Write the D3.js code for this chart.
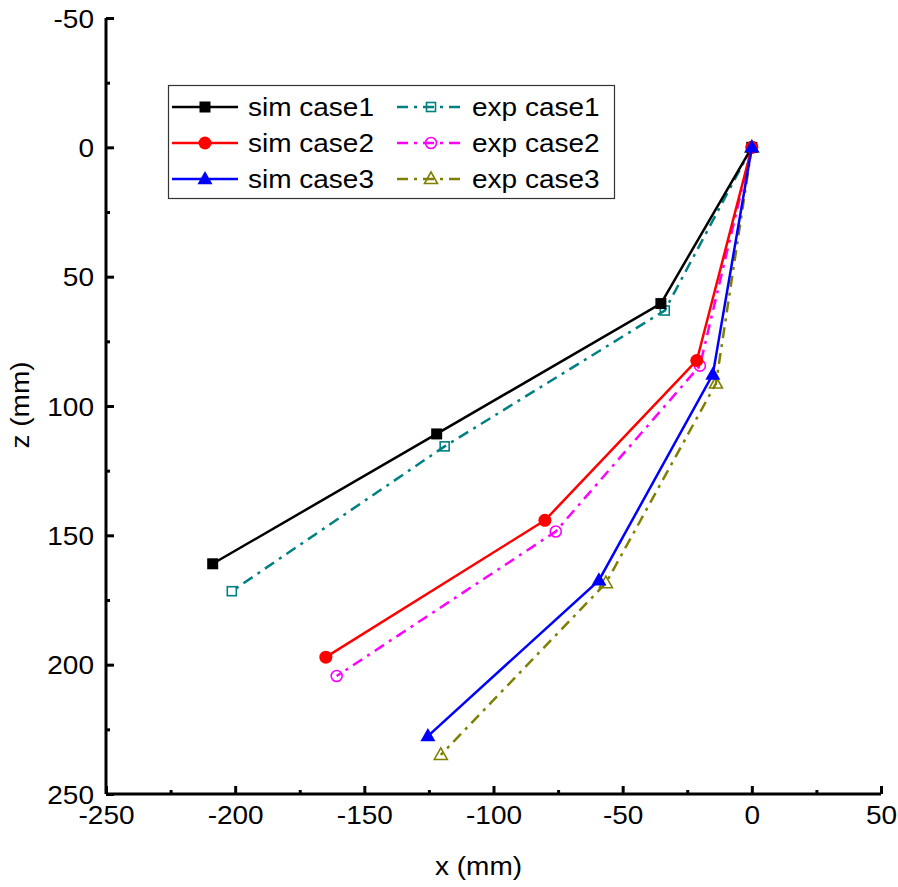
<!DOCTYPE html>
<html><head><meta charset="utf-8">
<script src="https://cdn.jsdelivr.net/npm/d3@7"></script>
<style>body{margin:0;background:#fff}svg{display:block}text{font-family:"Liberation Sans",Arial,sans-serif}</style>
</head><body><svg id="c" width="898" height="887"></svg>
<script>
const simCase1X = [0, -35.2, -122.0, -208.7];
const simCase1Z = [0, 60.4, 110.8, 161.0];
const expCase1X = [0, -33.7, -118.9, -201.3];
const expCase1Z = [0, 63.1, 115.6, 171.6];
const simCase2X = [0, -21.3, -80.1, -164.9];
const simCase2Z = [0, 82.4, 144.2, 197.1];
const expCase2X = [0, -20.1, -75.9, -160.7];
const expCase2Z = [0, 84.4, 148.5, 204.4];
const simCase3X = [0, -15.1, -59.2, -125.4];
const simCase3Z = [0, 87.8, 167.4, 227.6];
const expCase3X = [0, -13.9, -56.5, -120.4];
const expCase3Z = [0, 91.3, 168.5, 234.9];
const xTicks = [-250, -200, -150, -100, -50, 0, 50];
const zTicks = [-50, 0, 50, 100, 150, 200, 250];
const seriesNames = ["sim case1","sim case2","sim case3","exp case1","exp case2","exp case3"];

const series = [
  {name:seriesNames[0], x:simCase1X, z:simCase1Z, color:"#000000", sym:"square", open:false, dash:null},
  {name:seriesNames[1], x:simCase2X, z:simCase2Z, color:"#ff0000", sym:"circle", open:false, dash:null},
  {name:seriesNames[2], x:simCase3X, z:simCase3Z, color:"#0000ff", sym:"triangle", open:false, dash:null},
  {name:seriesNames[3], x:expCase1X, z:expCase1Z, color:"#008080", sym:"square", open:true, dash:"11,6,3,6"},
  {name:seriesNames[4], x:expCase2X, z:expCase2Z, color:"#ff00ff", sym:"circle", open:true, dash:"11,6,3,6"},
  {name:seriesNames[5], x:expCase3X, z:expCase3Z, color:"#808000", sym:"triangle", open:true, dash:"11,6,3,6"}
];

const svg = d3.select("#c");
const L = 106, R = 881, T = 18, B = 794;
const x = d3.scaleLinear().domain([-250, 50]).range([L, R]);
const y = d3.scaleLinear().domain([-50, 250]).range([T, B]);
const SX = 1.12;
const fmt = d => String(d);

// axes
const gx = svg.append("g").attr("transform", `translate(0,${B})`)
  .call(d3.axisBottom(x).tickValues(xTicks).tickSize(-8).tickPadding(12).tickFormat(fmt));
const gxm = svg.append("g").attr("transform", `translate(0,${B})`)
  .call(d3.axisBottom(x).tickValues(d3.range(-225, 50, 50)).tickSize(-4).tickFormat(""));
const gy = svg.append("g").attr("transform", `translate(${L},0)`)
  .call(d3.axisLeft(y).tickValues(zTicks).tickSize(-8).tickPadding(12).tickFormat(fmt));
const gym = svg.append("g").attr("transform", `translate(${L},0)`)
  .call(d3.axisLeft(y).tickValues(d3.range(-25, 250, 50)).tickSize(-4).tickFormat(""));
[gx,gxm,gy,gym].forEach(g=>{
  g.select(".domain").attr("stroke","#000").attr("stroke-width",3);
  g.selectAll(".tick line").attr("stroke","#000").attr("stroke-width",3);
  g.selectAll("text").attr("font-size",25).attr("fill","#000")
    .attr("font-family",'"Liberation Sans",Arial,sans-serif');
});
gx.select(".domain").attr("d", `M${L},0H${R}`);
gy.select(".domain").attr("d", `M0,${T}V${B}`);
gxm.select(".domain").remove(); gym.select(".domain").remove();
gx.selectAll(".tick text").attr("transform", `scale(${SX},1)`).attr("dy","0.72em");
gy.selectAll(".tick text").each(function(){
  const t = d3.select(this); const xx = +t.attr("x");
  t.attr("x", 0).attr("transform", `translate(${xx},0) scale(${SX},1)`).attr("dy","0.36em");
});

svg.append("text").attr("transform", `translate(${(L+R)/2 - 15},875) scale(${SX},1)`)
  .attr("text-anchor","middle").attr("font-size",25).text("x (mm)");
svg.append("text").attr("transform", `translate(29,405) rotate(-90) scale(${SX},1)`)
  .attr("text-anchor","middle").attr("font-size",25).text("z (mm)");

function marker(g, sym, cx, cy, color, open){
  const big = !open;
  let el;
  if (sym==="square"){
    const s = big?11:9;
    el = g.append("rect").attr("x",cx-s/2).attr("y",cy-s/2).attr("width",s).attr("height",s);
  } else if (sym==="circle"){
    el = g.append("circle").attr("cx",cx).attr("cy",cy).attr("r", big?6.5:5.5);
  } else {
    const s = big?7:6;
    el = g.append("path").attr("d", `M${cx},${cy-s-1}L${cx+s+0.5},${cy+s*0.75}L${cx-s-0.5},${cy+s*0.75}Z`);
  }
  if (open) el.attr("fill","none").attr("stroke",color).attr("stroke-width",1.6);
  else el.attr("fill",color).attr("stroke","none");
}

const line = d3.line().x(d=>x(d[0])).y(d=>y(d[1]));
const plot = svg.append("g");
const order = [3,4,5,0,1,2];
order.forEach(i=>{
  const s = series[i];
  const pts = s.x.map((v,j)=>[v, s.z[j]]);
  const g = plot.append("g");
  if (s.open) pts.forEach(p=>marker(g, s.sym, x(p[0]), y(p[1]), s.color, true));
  g.append("path").attr("d", line(pts)).attr("fill","none").attr("stroke",s.color)
    .attr("stroke-width",2.5).attr("stroke-dasharray", s.dash);
  if (!s.open) pts.forEach(p=>marker(g, s.sym, x(p[0]), y(p[1]), s.color, false));
});

// legend
const lg = svg.append("g");
lg.append("rect").attr("x",168.5).attr("y",85.5).attr("width",446).attr("height",113)
  .attr("fill","#fff").attr("stroke","#333").attr("stroke-width",1.2);
const rowsY = [107, 143, 179];
series.forEach((s,i)=>{
  const col = i<3?0:1, row = i%3;
  const x0 = col===0?172:397, x1 = col===0?238:462, mx = col===0?205:431, tx = col===0?248:472;
  const yy = rowsY[row];
  if (s.open) marker(lg, s.sym, mx, yy, s.color, true);
  lg.append("line").attr("x1",x0).attr("x2",x1).attr("y1",yy).attr("y2",yy)
    .attr("stroke",s.color).attr("stroke-width",2.5).attr("stroke-dasharray", s.dash);
  if (!s.open) marker(lg, s.sym, mx, yy, s.color, false);
  lg.append("text").attr("transform", `translate(${tx},${yy+9}) scale(${SX},1)`)
    .attr("font-size",25).text(s.name);
});
</script></body></html>
